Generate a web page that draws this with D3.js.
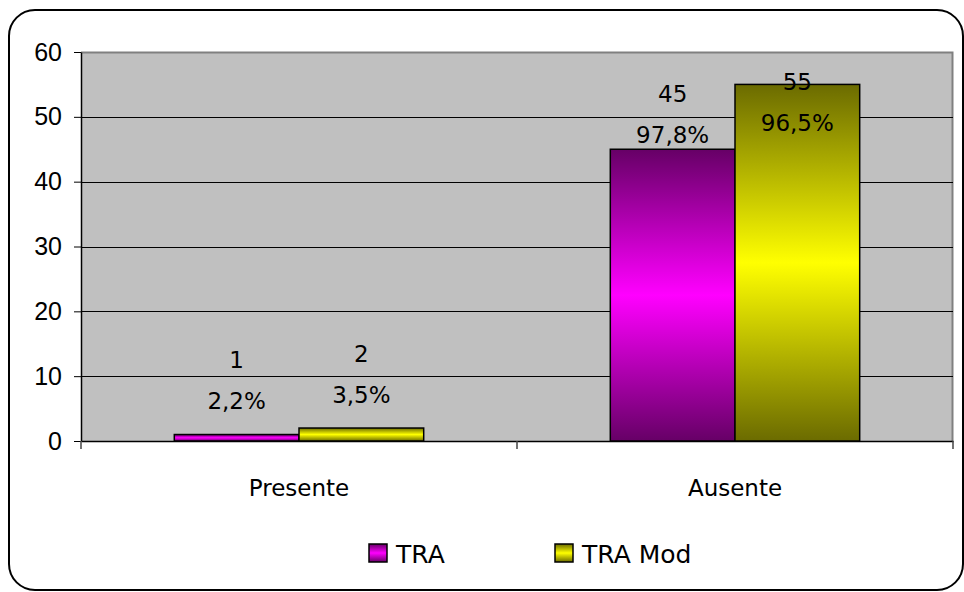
<!DOCTYPE html>
<html>
<head>
<meta charset="utf-8">
<script src="https://cdn.jsdelivr.net/npm/d3@7"></script>
<style>
  body { margin: 0; background: #fff; }
  .lbl { font-family: "Comic Sans MS", "DejaVu Sans", sans-serif; }
</style>
</head>
<body>
<div id="chart"></div>
<script>
// data
var categories = ["Presente", "Ausente"];
var seriesNames = ["TRA", "TRA Mod"];
var traValues = [1, 45];
var traModValues = [2, 55];
var traPct = ["2,2%", "97,8%"];
var traModPct = ["3,5%", "96,5%"];
var yTicks = [0, 10, 20, 30, 40, 50, 60];

var width = 964, height = 592;
var margin = {top: 52, right: 11, bottom: 151, left: 81};
var plotW = width - margin.left - margin.right,
    plotH = height - margin.top - margin.bottom;

var svg = d3.select("#chart").append("svg")
    .attr("width", width)
    .attr("height", height);

// gradients (dark at ends, bright in the middle)
var defs = svg.append("defs");
function grad(id, dark, bright) {
    var g = defs.append("linearGradient").attr("id", id)
        .attr("x1", 0).attr("y1", 0).attr("x2", 0).attr("y2", 1);
    g.append("stop").attr("offset", "0%").attr("stop-color", dark);
    g.append("stop").attr("offset", "50%").attr("stop-color", bright);
    g.append("stop").attr("offset", "100%").attr("stop-color", dark);
}
grad("gTRA", "#660066", "#ff00ff");
grad("gMod", "#6b6b00", "#ffff00");
var fills = ["url(#gTRA)", "url(#gMod)"];

// outer frame
svg.append("rect")
    .attr("x", 9).attr("y", 10)
    .attr("width", 954).attr("height", 580)
    .attr("rx", 26).attr("ry", 26)
    .attr("fill", "#fff")
    .attr("stroke", "#000")
    .attr("stroke-width", 2);

var g = svg.append("g")
    .attr("transform", "translate(" + margin.left + "," + margin.top + ")");

var x0 = d3.scaleBand().domain(categories).range([0, plotW]);
var x1 = d3.scaleBand().domain(seriesNames).range([x0.bandwidth() * 0.214, x0.bandwidth() * 0.786]);
var y = d3.scaleLinear().domain([0, 60]).range([plotH, 0]);

// plot area
g.append("rect")
    .attr("width", plotW).attr("height", plotH)
    .attr("fill", "#c0c0c0");
g.append("path")
    .attr("d", "M0,0.5H" + (plotW - 0.5) + "V" + plotH)
    .attr("fill", "none")
    .attr("stroke", "#808080")
    .attr("stroke-width", 2);

// gridlines
g.append("g").selectAll("line")
    .data(yTicks.filter(d => d > 0 && d < 60))
    .enter().append("line")
    .attr("x1", 0).attr("x2", plotW)
    .attr("y1", d => Math.round(y(d)) + 0.5)
    .attr("y2", d => Math.round(y(d)) + 0.5)
    .attr("stroke", "#000");

// y axis
var yAxis = g.append("g")
    .call(d3.axisLeft(y).tickValues(yTicks).tickSize(7).tickPadding(12).tickSizeOuter(0));
yAxis.select(".domain").attr("stroke", "#000").attr("stroke-width", 1.5);
yAxis.selectAll("text")
    .attr("font-family", "Arial, 'Liberation Sans', sans-serif")
    .attr("font-size", 25)
    .attr("fill", "#000");

// x axis
var xAxis = g.append("g")
    .attr("transform", "translate(0," + plotH + ")")
    .call(d3.axisBottom(x0).tickSize(0).tickPadding(39));
xAxis.select(".domain").attr("stroke", "#000").attr("stroke-width", 1.5);
xAxis.selectAll("text")
    .attr("class", "lbl")
    .attr("font-size", 23)
    .attr("fill", "#000");
xAxis.selectAll(".sep")
    .data([0, x0.bandwidth(), plotW])
    .enter().append("line")
    .attr("x1", d => d).attr("x2", d => d)
    .attr("y1", 0).attr("y2", 8)
    .attr("stroke", "#444").attr("stroke-width", 1.5);

// bars
var rows = categories.map(function(c, i) {
    return [
        {cat: c, s: seriesNames[0], v: traValues[i], p: traPct[i], k: 0},
        {cat: c, s: seriesNames[1], v: traModValues[i], p: traModPct[i], k: 1}
    ];
});
var flat = rows.flat();

g.append("g").selectAll("rect")
    .data(flat)
    .enter().append("rect")
    .attr("x", d => x0(d.cat) + x1(d.s))
    .attr("y", d => y(d.v))
    .attr("width", x1.bandwidth())
    .attr("height", d => plotH - y(d.v))
    .attr("fill", d => fills[d.k])
    .attr("stroke", "#000")
    .attr("stroke-width", 1.5);

// labels: value on top line, percent under it
var gap = d3.scaleLinear().domain([0, 45]).range([26, 6]).clamp(true);
var lab = g.append("g").attr("class", "lbl")
    .attr("font-size", 23).attr("text-anchor", "middle").attr("fill", "#000");
flat.forEach(function(d) {
    var cx = x0(d.cat) + x1(d.s) + x1.bandwidth() / 2;
    var pctY = y(d.v) - gap(d.v);            // baseline of percent line
    pctY = Math.max(pctY, 79);
    lab.append("text").attr("x", cx).attr("y", pctY - 41).text(d.v);
    lab.append("text").attr("x", cx).attr("y", pctY).text(d.p);
});

// legend
var legX = [369, 555];
var leg = svg.append("g").attr("class", "lbl");
seriesNames.forEach(function(s, i) {
    leg.append("rect")
        .attr("x", legX[i]).attr("y", 544)
        .attr("width", 18).attr("height", 18)
        .attr("fill", fills[i])
        .attr("stroke", "#000").attr("stroke-width", 1.5);
    leg.append("text")
        .attr("x", legX[i] + 27).attr("y", 563)
        .attr("font-size", 25)
        .text(s);
});
</script>
</body>
</html>
